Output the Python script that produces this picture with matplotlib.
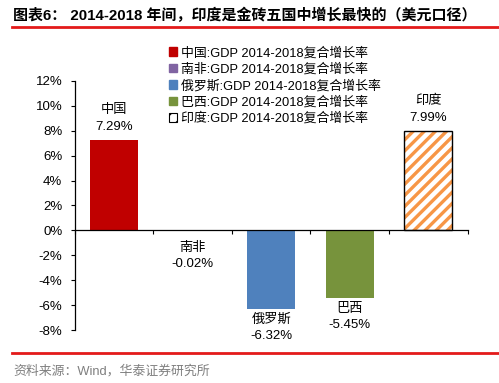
import numpy as np
import matplotlib.pyplot as plt
from matplotlib.lines import Line2D
from matplotlib.patches import Patch

plt.rcParams['font.family'] = ['Liberation Sans', 'Noto Sans CJK SC', 'DejaVu Sans']
plt.rcParams['hatch.linewidth'] = 2.4

# data
countries = ['中国', '南非', '俄罗斯', '巴西', '印度']
growth = [7.29, -0.02, -6.32, -5.45, 7.99]
colors = ['#C00000', '#8064A2', '#4F81BD', '#77933C', '#F79646']
yticks = [-8, -6, -4, -2, 0, 2, 4, 6, 8, 10, 12]

fig = plt.figure(figsize=(4.99, 3.83), dpi=100)
ax = fig.add_axes([0.150, 0.138, 0.787, 0.651])

x = np.arange(len(countries))
w = 0.61
for i in range(len(countries)):
    if i == 4:
        ax.bar(x[i], growth[i], w, color='white', edgecolor=colors[i],
               hatch='///', linewidth=0, zorder=2)
        ax.bar(x[i], growth[i], w, facecolor='none', edgecolor='black',
               linewidth=1, zorder=3)
    else:
        ax.bar(x[i], growth[i], w, color=colors[i], zorder=2)

# labels
for i, v in enumerate(growth):
    txt = countries[i] + '\n' + '%.2f%%' % v
    if v > 0:
        ax.annotate(txt, (x[i], v), xytext=(0, 5), textcoords='offset points',
                    ha='center', va='bottom', fontsize=9.5, linespacing=1.5)
    else:
        off = -8 if i == 1 else -3
        ax.annotate(txt, (x[i], v), xytext=(0, off), textcoords='offset points',
                    ha='center', va='top', fontsize=9.5, linespacing=1.5)

ax.set_xlim(-0.5, 4.5)
ax.set_ylim(-8, 12)
ax.set_yticks(yticks)
ax.set_yticklabels(['%d%%' % t for t in yticks], fontsize=9.5)
ax.set_xticks(np.arange(-0.5, 5, 1))
ax.set_xticklabels([])
ax.tick_params(axis='x', direction='out', length=3, width=0.8)
ax.tick_params(axis='y', direction='out', length=3, width=0.8, pad=6)
ax.spines['bottom'].set_position(('data', 0))
ax.spines['top'].set_visible(False)
ax.spines['right'].set_visible(False)
for s in ['left', 'bottom']:
    ax.spines[s].set_linewidth(0.9)
ax.set_facecolor('none')

# legend
handles = []
for i in range(4):
    handles.append(Patch(facecolor=colors[i], edgecolor=colors[i]))
handles.append(Patch(facecolor='white', edgecolor='black', hatch='//', linewidth=0.8))
labels = [c + ':GDP 2014-2018复合增长率' for c in countries]
leg = fig.legend(handles, labels, loc='upper left', bbox_to_anchor=(0.325, 0.895),
                 frameon=False, fontsize=9.3, handlelength=0.65, handleheight=0.65,
                 handletextpad=0.3, labelspacing=0.3, borderpad=0)

# title, lines, source
fig.text(0.026, 0.96, '图表6： 2014-2018 年间，印度是金砖五国中增长最快的（美元口径）',
         fontsize=10.8, fontweight='bold', va='center', ha='left')
fig.add_artist(Line2D([0.024, 1.0], [0.930, 0.930], color='#E31A1A', lw=2))
fig.add_artist(Line2D([0.024, 1.0], [0.078, 0.078], color='#E31A1A', lw=2))
fig.text(0.026, 0.030, '资料来源：Wind，华泰证券研究所', fontsize=9.3, color='#7F7F7F',
         va='center', ha='left')

fig.savefig('out.png', dpi=100)
